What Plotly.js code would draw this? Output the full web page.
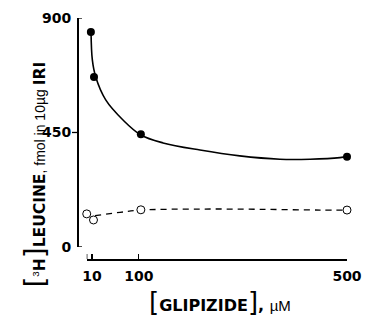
<!DOCTYPE html>
<html>
<head>
<meta charset="utf-8">
<script src="https://cdn.plot.ly/plotly-3.0.1.min.js"></script>
<style>html,body{margin:0;padding:0;background:#fff;}#chart{width:365px;height:316px;}</style>
</head>
<body>
<div id="chart"></div>
<script>
// Measured points (glipizide, µM)
var filledX = [8, 14, 104, 500];
var filledY = [845, 668, 443, 355];
var openX = [0, 13, 104, 500];
var openY = [130, 106, 146, 145];
// Hand-drawn fitted curves
var solidCurveX = [8.3, 10.8, 17.3, 36.5, 69.7, 104, 146.6, 217.6, 294, 371, 429, 486.5, 500];
var solidCurveY = [845, 735, 668, 578, 499, 440, 409, 381, 358, 345, 345, 351, 355];
var dashCurveX = [16, 64, 104, 218, 333, 448, 500];
var dashCurveY = [123, 136, 145, 149, 148, 145, 145];
var xTickVals = [10, 100, 500];
var xTickText = ['10', '100', '500'];
var yTickVals = [0, 450, 900];

var traces = [
  {x: solidCurveX, y: solidCurveY, mode: 'lines', line: {color: '#000', width: 1.6, shape: 'spline', smoothing: 1}, hoverinfo: 'skip'},
  {x: filledX, y: filledY, mode: 'markers', marker: {color: '#000', size: 8}, cliponaxis: false},
  {x: dashCurveX, y: dashCurveY, mode: 'lines', line: {color: '#000', width: 1.3, dash: '6px,5px', shape: 'spline', smoothing: 1}, hoverinfo: 'skip'},
  {x: openX, y: openY, mode: 'markers', marker: {color: '#fff', size: 8, line: {color: '#000', width: 1}}, cliponaxis: false}
];

var tickFont = {family: 'DejaVu Sans', size: 14, color: '#000', weight: 'bold'};

var layout = {
  width: 365, height: 316,
  margin: {l: 77, r: 18, t: 18, b: 57},
  paper_bgcolor: '#fff', plot_bgcolor: 'rgba(0,0,0,0)',
  showlegend: false,
  xaxis: {
    domain: [0.036, 1], range: [0, 500], anchor: 'free', position: 0,
    showline: true, linecolor: '#000', linewidth: 1.5,
    ticks: 'inside', ticklen: 5, tickwidth: 1.3, tickcolor: '#000',
    tickvals: xTickVals, ticktext: xTickText, tickfont: tickFont,
    ticklabelstandoff: 4,
    showgrid: false, zeroline: false
  },
  yaxis: {
    domain: [0.05, 1], range: [0, 900], anchor: 'free', position: 0,
    showline: true, linecolor: '#000', linewidth: 1.5,
    ticks: '', tickvals: yTickVals, tickfont: tickFont,
    ticklabelstandoff: 3,
    showgrid: false, zeroline: false
  },
  shapes: [
    {type: 'line', xref: 'paper', yref: 'y', xsizemode: 'pixel', xanchor: 0, x0: -5, x1: 0, y0: 450, y1: 450, line: {color: '#000', width: 1.3}},
    {type: 'line', xref: 'paper', yref: 'y', xsizemode: 'pixel', xanchor: 0, x0: 0, x1: 5, y0: 900, y1: 900, line: {color: '#000', width: 1.3}},
    {type: 'line', xref: 'paper', yref: 'y', xsizemode: 'pixel', xanchor: 0, x0: 0, x1: 5, y0: 0, y1: 0, line: {color: '#000', width: 1.3}},
    {type: 'line', xref: 'x', yref: 'paper', ysizemode: 'pixel', yanchor: 0, x0: 0, x1: 0, y0: 0, y1: 5, line: {color: '#000', width: 1.3}}
  ],
  annotations: [
    {
      xref: 'paper', yref: 'paper', x: -0.152, y: 0.35, xanchor: 'center', yanchor: 'middle',
      textangle: -90, showarrow: false,
      font: {family: 'DejaVu Sans', size: 15.5, color: '#000'},
      text: '<span style="font-size:28px">[</span><span style="font-family:Liberation Sans;font-size:14px"><sup>3</sup></span><b>H</b><span style="font-size:28px">]</span><b>LEUCINE</b><span style="font-family:Liberation Sans;font-size:14px">, fmol in 10µg </span><b>IRI</b>'
    },
    {
      xref: 'paper', yref: 'paper', x: 0.528, y: -0.178, xanchor: 'center', yanchor: 'middle',
      showarrow: false,
      font: {family: 'DejaVu Sans', size: 16, color: '#000'},
      text: '<span style="font-size:26px">[</span><b>GLIPIZIDE</b><span style="font-size:26px">]</span><b>, </b><span style="font-family:Liberation Sans;font-size:15px">µM</span>'
    }
  ]
};

Plotly.newPlot('chart', traces, layout, {staticPlot: true, displayModeBar: false});
</script>
</body>
</html>
